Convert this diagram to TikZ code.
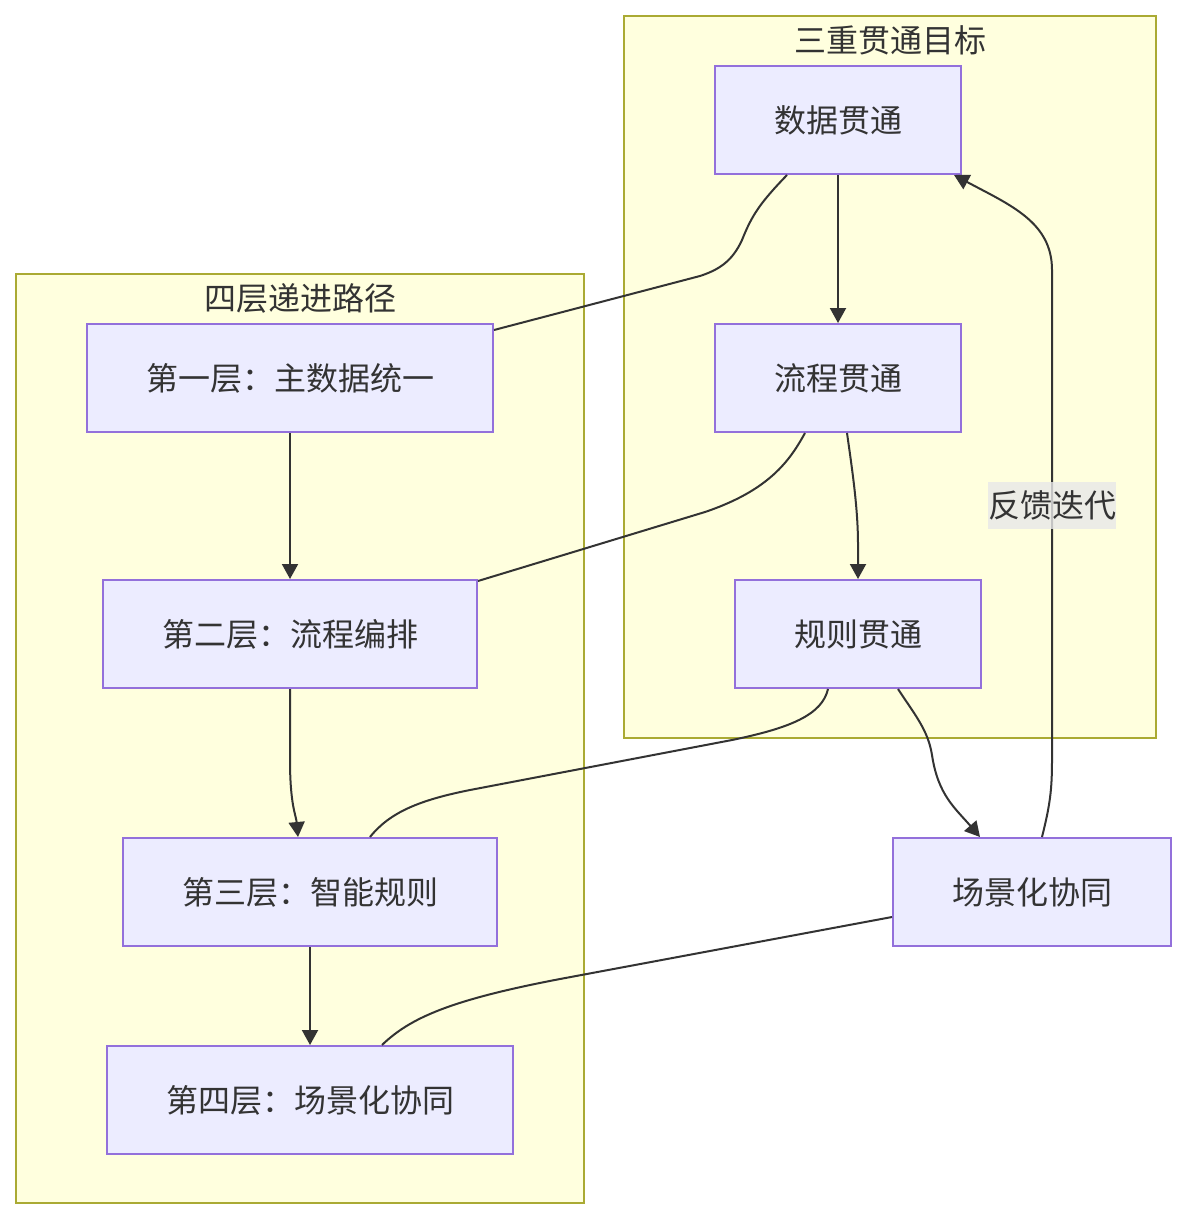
\documentclass[tikz,border=0pt]{standalone}
\usepackage{fontspec}
\newfontfamily\cjk{Noto Sans CJK SC}
\usetikzlibrary{arrows.meta}
\definecolor{nodefill}{HTML}{ECECFF}
\definecolor{nodeline}{HTML}{9370DB}
\definecolor{clusterfill}{HTML}{FFFFDE}
\definecolor{clusterline}{HTML}{AAAA33}
\definecolor{edgegray}{HTML}{333333}
\definecolor{labelfill}{HTML}{E8E8E8}

\begin{document}
\begin{tikzpicture}[
  x=1pt, y=-1pt,
  >={Triangle[length=15pt,width=16pt]},
  font=\cjk\fontsize{32}{38}\selectfont,
  cluster/.style={
    draw=clusterline,
    line width=2pt,
    fill=clusterfill
  },
  box/.style={
    draw=nodeline,
    line width=2pt,
    fill=nodefill,
    text=edgegray,
    inner xsep=59pt,
    inner ysep=0pt,
    minimum height=108pt
  },
  title/.style={text=edgegray},
  link/.style={draw=edgegray,line width=2pt},
  arrow/.style={link,->},
  tag/.style={
    fill=labelfill,
    fill opacity=0.8,
    text opacity=1,
    text=edgegray,
    inner xsep=0pt,
    minimum height=47pt
  }
]
  \useasboundingbox (0,0) rectangle (1188,1220);
  \fill[white] (0,0) rectangle (1188,1220);

  % groups
  \draw[cluster] (624,16) rectangle (1156,738);
  \node[title] (goaltitle) at (890,40) {三重贯通目标};
  \draw[cluster] (16,274) rectangle (584,1203);
  \node[title] (pathtitle) at (300,298) {四层递进路径};

  % goals
  \node[box] (datagt) at (838,120) {数据贯通};
  \node[box] (flowgt) at (838,378) {流程贯通};
  \node[box] (rulegt) at (858,634) {规则贯通};
  \node[box] (scene) at (1032,892) {场景化协同};

  % layers
  \node[box] (layer1) at (290,378) {第一层：主数据统一};
  \node[box] (layer2) at (290,634) {第二层：流程编排};
  \node[box] (layer3) at (310,892) {第三层：智能规则};
  \node[box] (layer4) at (310,1100) {第四层：场景化协同};

  \draw[arrow] (datagt) -- (flowgt);
  \draw[arrow] ([xshift=9pt]flowgt.south) .. controls (853,475) and (858,510) .. (858,545) -- (rulegt.north);
  \draw[arrow] ([xshift=40pt]rulegt.south) .. controls (915,715) and (928,730) .. (932,755)
    .. controls (938,795) and (955,808) .. ([xshift=-52pt]scene.north);
  \draw[arrow] ([xshift=10pt]scene.north) .. controls (1050,805) and (1052,790) .. (1052,760)
    -- node[tag,pos=0.52] (feedback) {反馈迭代} (1052,270)
    .. controls (1052,222) and (1010,205) .. ([xshift=-8pt]datagt.south east);

  \draw[arrow] (layer1) -- (layer2);
  \draw[arrow] (layer2.south) -- (290,760) .. controls (290,805) and (296,815) .. ([xshift=-12pt]layer3.north);
  \draw[arrow] (layer3) -- (layer4);

  \draw[link] ([xshift=-51pt]datagt.south) .. controls (760,203) and (752,215) .. (742,240)
    .. controls (732,262) and (718,270) .. (700,276) -- ([yshift=-7pt]layer1.north east);
  \draw[link] ([xshift=-33pt]flowgt.south) .. controls (790,460) and (770,490) .. (705,512)
    -- ([yshift=-2pt]layer2.north east);
  \draw[link] ([xshift=-30pt]rulegt.south) .. controls (822,715) and (790,728) .. (732,740)
    -- (470,790) .. controls (420,800) and (390,812) .. ([xshift=60pt]layer3.north);
  \draw[link] ([yshift=-25pt]scene.west) -- (560,979) .. controls (450,1000) and (410,1018) .. ([xshift=72pt]layer4.north);
\end{tikzpicture}
\end{document}
